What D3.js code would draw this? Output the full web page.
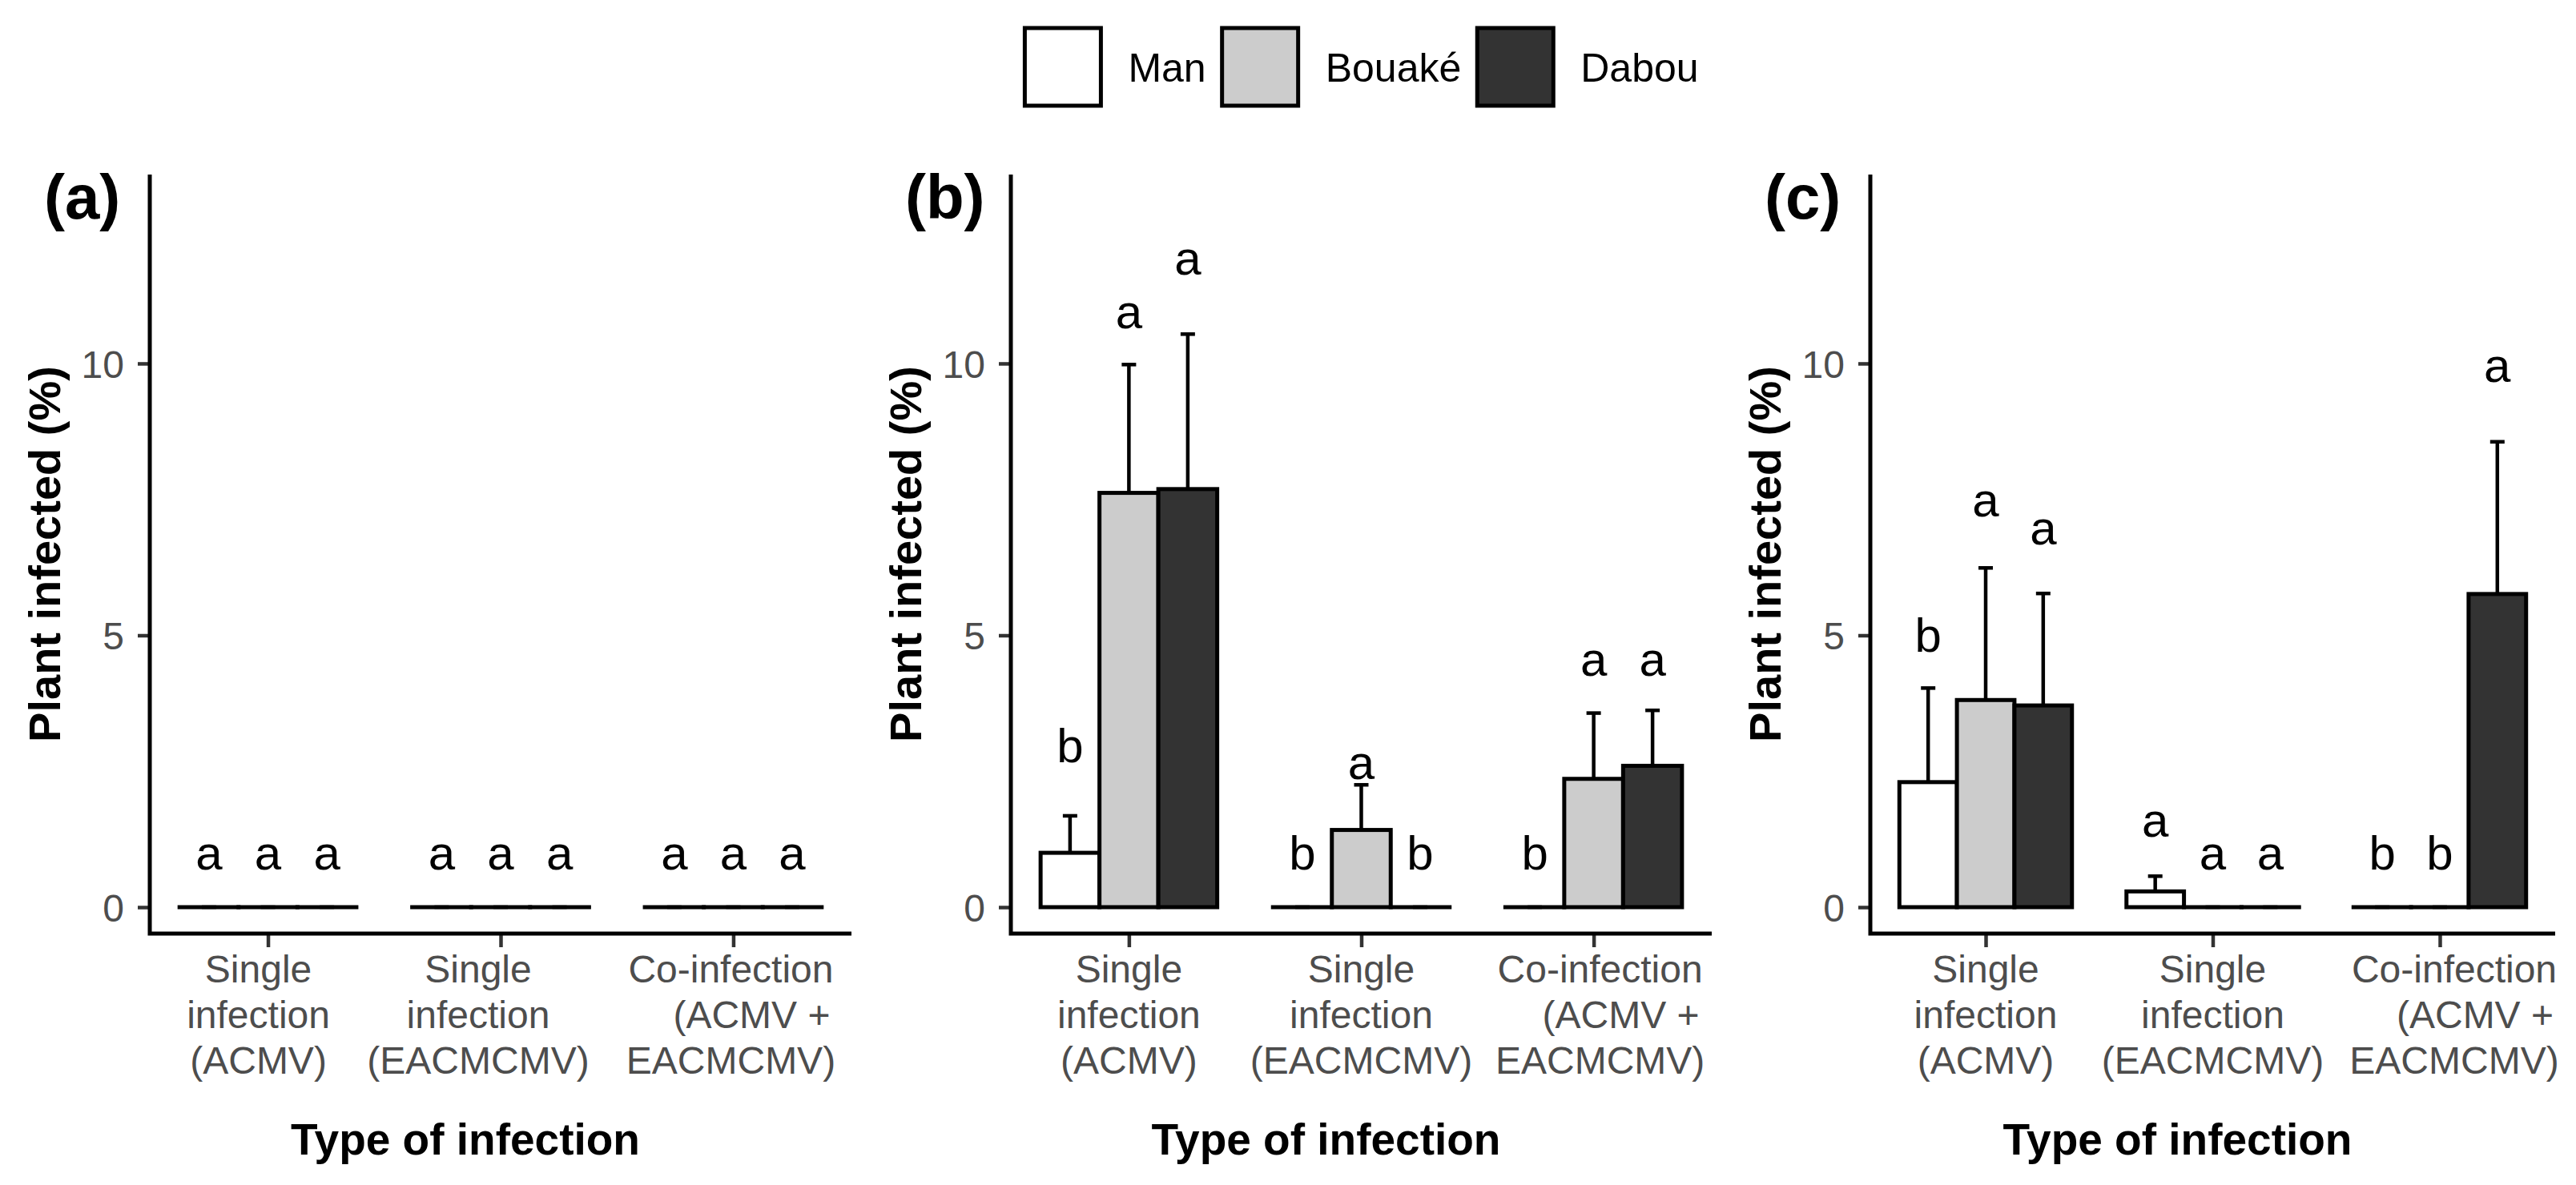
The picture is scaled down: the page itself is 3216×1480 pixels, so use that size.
<!DOCTYPE html>
<html>
<head>
<meta charset="utf-8">
<script src="https://cdn.jsdelivr.net/npm/d3@7"></script>
<style>
  html, body { margin: 0; padding: 0; background: #ffffff; }
  svg { display: block; }
  text { font-family: "Liberation Sans", Arial, Helvetica, sans-serif; }
</style>
</head>
<body>
<svg id="chart" width="3216" height="1480"></svg>
<script>
// ---------------- DATA ----------------
const categories = ["Single infection (ACMV)", "Single infection (EACMCMV)", "Co-infection (ACMV + EACMCMV)"];
const categoryLines = [
  ["Single", "infection", "(ACMV)"],
  ["Single", "infection", "(EACMCMV)"],
  ["Co-infection", "(ACMV +", "EACMCMV)"]
];
const sites = ["Man", "Bouaké", "Dabou"];
const panelTags = ["(a)", "(b)", "(c)"];
const yTicks = [0, 5, 10];
const yTitle = "Plant infected (%)";
const xTitle = "Type of infection";

// mean % per category (rows) and site (columns)
const meansA = [[0, 0, 0], [0, 0, 0], [0, 0, 0]];
const meansB = [[1.00, 7.62, 7.69], [0, 1.42, 0], [0, 2.36, 2.60]];
const meansC = [[2.30, 3.81, 3.71], [0.29, 0, 0], [0, 0, 5.76]];

// standard errors (upper error bar length)
const seA = [[0, 0, 0], [0, 0, 0], [0, 0, 0]];
const seB = [[0.68, 2.36, 2.85], [0, 0.83, 0], [0, 1.21, 1.02]];
const seC = [[1.73, 2.43, 2.06], [0.28, 0, 0], [0, 0, 2.80]];

// significance letters and the value at which each letter sits
const lettersA = [["a", "a", "a"], ["a", "a", "a"], ["a", "a", "a"]];
const lettersB = [["b", "a", "a"], ["b", "a", "b"], ["b", "a", "a"]];
const lettersC = [["b", "a", "a"], ["a", "a", "a"], ["b", "b", "a"]];
const letterYA = [[0.69, 0.69, 0.69], [0.69, 0.69, 0.69], [0.69, 0.69, 0.69]];
const letterYB = [[2.67, 10.65, 11.63], [0.69, 2.35, 0.69], [0.69, 4.25, 4.25]];
const letterYC = [[4.70, 7.19, 6.67], [1.30, 0.69, 0.69], [0.69, 0.69, 9.66]];

// ---------------- LAYOUT / STYLE ----------------
const svg = d3.select("#chart");
const fillScale = d3.scaleOrdinal().domain(sites).range(["#FFFFFF", "#CCCCCC", "#333333"]);
const FONT = '"Liberation Sans", Arial, Helvetica, sans-serif';

const panels = [
  { tag: panelTags[0], means: meansA, se: seA, letters: lettersA, letterY: letterYA, x0: 187, x1: 1063, labelNudge: [-12, -28, -3] },
  { tag: panelTags[1], means: meansB, se: seB, letters: lettersB, letterY: letterYB, x0: 1262, x1: 2137, labelNudge: [0, 0, 8] },
  { tag: panelTags[2], means: meansC, se: seC, letters: lettersC, letterY: letterYC, x0: 2335, x1: 3190, labelNudge: [0, 0, 18] }
];
const lineNudge = [[0, 0, 0], [0, 0, 0], [0, 26, 0]];

const yTop = 218, yBottom = 1166;
const y = d3.scaleLinear().domain([-0.486, 13.475]).range([yBottom, yTop]);
const dodge = d3.scaleBand().domain(sites).range([-0.38, 0.38]).padding(0);

panels.forEach(p => {
  const g = svg.append("g");
  const pad = 0.508;
  const x = d3.scaleLinear().domain([1 - pad, categories.length + pad]).range([p.x0, p.x1]);
  const unit = x(1) - x(0);

  const rows = [];
  categories.forEach((c, ci) => {
    sites.forEach((s, si) => {
      rows.push({
        ci, s, si,
        mean: p.means[ci][si],
        se: p.se[ci][si],
        letter: p.letters[ci][si],
        ly: p.letterY[ci][si],
        left: x(ci + 1 + dodge(s)),
        width: dodge.bandwidth() * unit
      });
    });
  });

  // bars
  g.selectAll("rect.bar").data(rows).enter().append("rect")
    .attr("class", "bar")
    .attr("x", d => d.left)
    .attr("width", d => d.width)
    .attr("y", d => y(d.mean))
    .attr("height", d => Math.max(y(0) - y(d.mean), 0.01))
    .attr("fill", d => fillScale(d.s))
    .attr("stroke", "#000")
    .attr("stroke-width", 5);

  // error bars (upper only)
  const eb = g.selectAll("g.err").data(rows).enter().append("g").attr("class", "err");
  eb.append("line")
    .attr("x1", d => d.left + d.width / 2).attr("x2", d => d.left + d.width / 2)
    .attr("y1", d => y(d.mean)).attr("y2", d => y(d.mean + d.se))
    .attr("stroke", "#000").attr("stroke-width", 4.5);
  eb.append("line")
    .attr("x1", d => d.left + d.width / 2 - 9).attr("x2", d => d.left + d.width / 2 + 9)
    .attr("y1", d => y(d.mean + d.se)).attr("y2", d => y(d.mean + d.se))
    .attr("stroke", "#000").attr("stroke-width", 4.5);

  // letters
  g.selectAll("text.letter").data(rows).enter().append("text")
    .attr("class", "letter")
    .attr("x", d => d.left + d.width / 2)
    .attr("y", d => y(d.ly))
    .attr("text-anchor", "middle")
    .attr("font-size", 60)
    .attr("fill", "#000")
    .text(d => d.letter);

  // y axis
  const yAxis = d3.axisLeft(y).tickValues(yTicks).tickSize(15).tickPadding(17).tickFormat(d3.format("d"));
  const ya = g.append("g").attr("transform", `translate(${p.x0},0)`).call(yAxis);
  ya.select(".domain").remove();
  ya.selectAll(".tick line").attr("stroke", "#333333").attr("stroke-width", 4.5);
  ya.selectAll(".tick text").attr("fill", "#4D4D4D").attr("font-size", 48).attr("font-family", FONT).attr("dy", "0.36em");

  // x axis ticks
  const xa = g.append("g").attr("transform", `translate(0,${yBottom})`)
    .call(d3.axisBottom(x).tickValues(categories.map((c, i) => i + 1)).tickSize(17).tickFormat(""));
  xa.select(".domain").remove();
  xa.selectAll(".tick line").attr("stroke", "#333333").attr("stroke-width", 4.5);

  // category labels
  categories.forEach((c, ci) => {
    const cx = x(ci + 1) + p.labelNudge[ci];
    const t = g.append("text")
      .attr("x", cx)
      .attr("y", 1227)
      .attr("text-anchor", "middle")
      .attr("font-size", 48)
      .attr("fill", "#4D4D4D");
    categoryLines[ci].forEach((ln, li) => {
      t.append("tspan").attr("x", cx + lineNudge[ci][li]).attr("dy", li === 0 ? 0 : 57).text(ln);
    });
  });

  // axis lines
  g.append("path")
    .attr("d", `M${p.x0},${yTop}V${yBottom}H${p.x1}`)
    .attr("fill", "none").attr("stroke", "#000").attr("stroke-width", 5)
    .attr("stroke-linejoin", "miter");

  // axis titles
  g.append("text")
    .attr("transform", `translate(${p.x0 - 112},${(yTop + yBottom) / 2}) rotate(-90)`)
    .attr("text-anchor", "middle")
    .attr("font-size", 56).attr("font-weight", "bold").attr("fill", "#000")
    .text(yTitle);

  g.append("text")
    .attr("x", (p.x0 + p.x1) / 2 - 44)
    .attr("y", 1442)
    .attr("text-anchor", "middle")
    .attr("font-size", 55).attr("font-weight", "bold").attr("fill", "#000")
    .text(xTitle);

  // panel tag
  g.append("text")
    .attr("x", p.x0 - 132)
    .attr("y", 273)
    .attr("font-size", 78).attr("font-weight", "bold").attr("fill", "#000")
    .text(p.tag);
});

// ---------------- LEGEND ----------------
const legend = svg.append("g");
const keyW = 95, keyH = 97, keyTop = 35, gapText = 34, gapItem = 20;
let cursor = 0;
sites.forEach(s => {
  const it = legend.append("g");
  it.append("rect").attr("x", cursor).attr("y", keyTop).attr("width", keyW).attr("height", keyH)
    .attr("fill", fillScale(s)).attr("stroke", "#000").attr("stroke-width", 5);
  const t = it.append("text").attr("x", cursor + keyW + gapText).attr("y", 102)
    .attr("font-size", 50).attr("fill", "#000").text(s);
  const w = t.node().getComputedTextLength();
  cursor += keyW + gapText + w + gapItem;
});
const totalW = cursor - gapItem;
legend.attr("transform", `translate(${1700 - totalW / 2},0)`);
</script>
</body>
</html>
